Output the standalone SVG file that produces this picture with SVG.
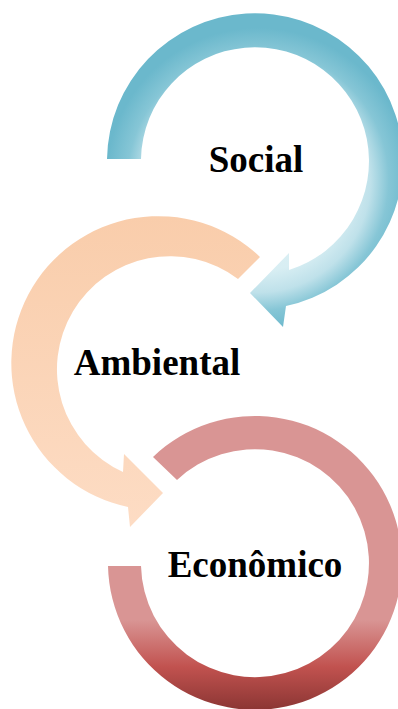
<svg xmlns="http://www.w3.org/2000/svg" width="398" height="709" viewBox="0 0 398 709">
  <style>
    .label { font-family: "Liberation Serif", "Times New Roman", serif; font-weight: bold; font-size: 37px; fill: #000; text-anchor: middle; }
  </style>
  <defs>
    <radialGradient id="gradSocial" gradientUnits="userSpaceOnUse" cx="258" cy="180" r="152">
      <stop offset="0" stop-color="#e2f2f6"/>
      <stop offset="0.6" stop-color="#d8eef3"/>
      <stop offset="0.74" stop-color="#bfe1ea"/>
      <stop offset="0.86" stop-color="#86c6d6"/>
      <stop offset="1" stop-color="#6bb8cc"/>
    </radialGradient>
    <linearGradient id="gradAmbiental" gradientUnits="userSpaceOnUse" x1="0" y1="216" x2="0" y2="527">
      <stop offset="0" stop-color="#f9cdab"/>
      <stop offset="1" stop-color="#fddcc4"/>
    </linearGradient>
    <linearGradient id="gradEconomico" gradientUnits="userSpaceOnUse" x1="0" y1="417" x2="0" y2="711">
      <stop offset="0" stop-color="#d99594"/>
      <stop offset="0.69" stop-color="#d99594"/>
      <stop offset="0.85" stop-color="#c1524f"/>
      <stop offset="1" stop-color="#8a3533"/>
    </linearGradient>
  </defs>

  <g id="connectors"></g>

  <!-- Social: clockwise ring ending in an arrowhead pointing down-left -->
  <g id="social">
    <path fill="url(#gradSocial)" d="M 107 159 A 148 148 0 1 1 286 306 L 283 327 L 250 293 L 289 253 L 289 270 A 114 114 0 1 0 141 159 Z"/>
    <text class="label" x="256" y="172">Social</text>
  </g>

  <!-- Ambiental: counter-clockwise ring ending in an arrowhead pointing right -->
  <g id="ambiental">
    <path fill="url(#gradAmbiental)" d="M 260 257 A 147 147 0 1 0 128 507 L 130 527 L 163 493 L 124 454 L 123 472 A 113 113 0 1 1 238 279 Z"/>
    <text class="label" x="157" y="375">Ambiental</text>
  </g>

  <!-- Econômico: open ring -->
  <g id="economico">
    <path fill="url(#gradEconomico)" d="M 153 457 A 147 147 0 1 1 108 566 L 141 566 A 114 114 0 1 0 177 480 Z"/>
    <text class="label" x="255" y="577">Econômico</text>
  </g>
</svg>
